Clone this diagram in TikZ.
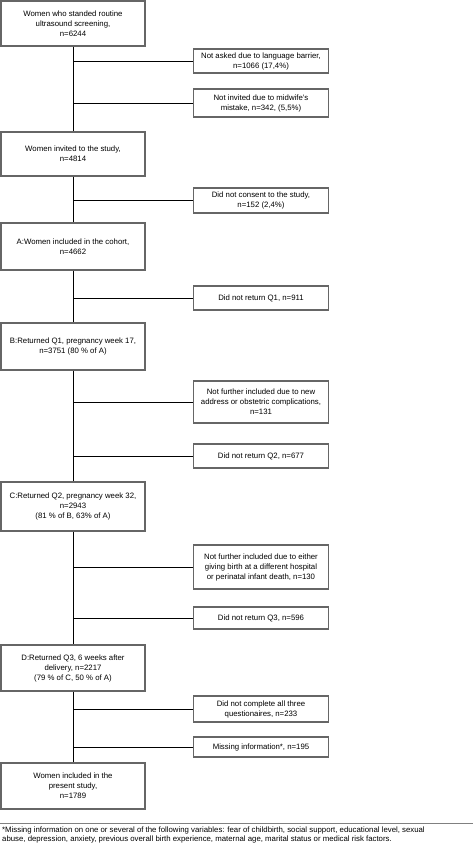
\documentclass[tikz,border=0pt]{standalone}
\usepackage{fontspec}
\setmainfont{Liberation Sans}
\begin{document}
\begin{tikzpicture}[x=1pt,y=-1pt,
  box/.style={draw=black!60,line width=1.1pt,align=center,inner sep=1pt,
    font=\fontsize{7.8}{10}\selectfont},
  mainbox/.style={box,minimum width=144pt},
  sidebox/.style={box,minimum width=135pt},
  conn/.style={draw=black,line width=0.8pt}]
\useasboundingbox (0,0) rectangle (473,846);
% main boxes
\node[mainbox,minimum height=45pt] (b1) at (73,23.5) {Women who standed routine\\ultrasound screening,\\n=6244};
\node[mainbox,minimum height=44pt] (b2) at (73,154) {Women invited to the study,\\n=4814};
\node[mainbox,minimum height=47pt] (b3) at (73,246.5) {A:Women included in the cohort,\\n=4662};
\node[mainbox,minimum height=47pt] (b4) at (73,346.5) {B:Returned Q1, pregnancy week 17,\\n=3751 (80 \% of A)};
\node[mainbox,minimum height=49pt] (b5) at (73,506.5) {C:Returned Q2, pregnancy week 32,\\n=2943\\(81 \% of B, 63\% of A)};
\node[mainbox,minimum height=46pt] (b6) at (73,668) {D:Returned Q3, 6 weeks after\\delivery, n=2217\\(79 \% of C, 50 \% of A)};
\node[mainbox,minimum height=46pt] (b7) at (73,786) {Women included in the\\present study,\\n=1789};
% side boxes
\node[sidebox,minimum height=24pt] (s1) at (261,61) {Not asked due to language barrier,\\n=1066 (17,4\%)};
\node[sidebox,minimum height=28pt] (s2) at (261,103) {Not invited due to midwife's\\mistake, n=342, (5,5\%)};
\node[sidebox,minimum height=25pt] (s3) at (261,200.5) {Did not consent to the study,\\n=152 (2,4\%)};
\node[sidebox,minimum height=24pt] (s4) at (261,298) {Did not return Q1, n=911};
\node[sidebox,minimum height=42pt] (s5) at (261,402) {Not further included due to new\\address or obstetric complications,\\n=131};
\node[sidebox,minimum height=24pt] (s6) at (261,456) {Did not return Q2, n=677};
\node[sidebox,minimum height=44pt] (s7) at (261,567) {Not further included due to either\\giving birth at a different hospital\\or perinatal infant death, n=130};
\node[sidebox,minimum height=22pt] (s8) at (261,618) {Did not return Q3, n=596};
\node[sidebox,minimum height=26pt] (s9) at (261,709) {Did not complete all three\\questionaires, n=233};
\node[sidebox,minimum height=20pt] (s10) at (261,747) {Missing information*, n=195};
% spine
\draw[conn] (b1.south) -- (b2.north);
\draw[conn] (b2.south) -- (b3.north);
\draw[conn] (b3.south) -- (b4.north);
\draw[conn] (b4.south) -- (b5.north);
\draw[conn] (b5.south) -- (b6.north);
\draw[conn] (b6.south) -- (b7.north);
% side connectors
\foreach \s/\b in {s1/b1,s2/b1,s3/b2,s4/b3,s5/b4,s6/b4,s7/b5,s8/b5,s9/b6,s10/b6}
  \draw[conn] (\s.west) -- (\s.west -| \b.south);
% footnote
\coordinate (fl) at (0,823);
\coordinate (fr) at (473,823);
\draw[black!50,line width=0.8pt] (fl) -- (fr);
\node[anchor=north west,align=left,inner sep=0pt,font=\fontsize{7.8}{9}\selectfont] (fn) at (2,827)
 {*Missing information on one or several of the following variables: fear of childbirth, social support, educational level, sexual\\abuse, depression, anxiety, previous overall birth experience, maternal age, marital status or medical risk factors.};
\end{tikzpicture}
\end{document}
